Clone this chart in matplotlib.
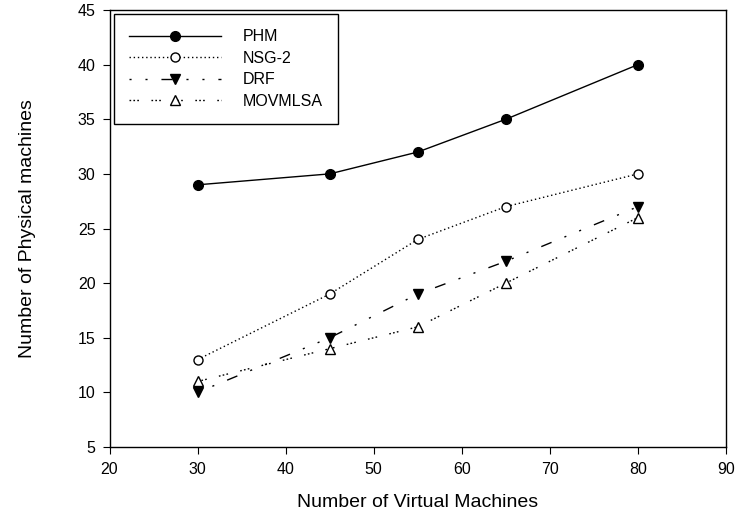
import matplotlib.pyplot as plt

plt.rcParams['font.family'] = ['Liberation Sans', 'DejaVu Sans']

vms = [30, 45, 55, 65, 80]
phm = [29, 30, 32, 35, 40]
nsg2 = [13, 19, 24, 27, 30]
drf = [10, 15, 19, 22, 27]
movmlsa = [11, 14, 16, 20, 26]

fig = plt.figure(figsize=(7.36, 5.21), dpi=100)
ax = fig.add_axes([0.1488, 0.142, 0.8376, 0.8388])

ax.plot(vms, phm, color='black', lw=1, marker='o', ms=7, mfc='black', label='PHM')
ax.plot(vms, nsg2, color='black', lw=1, ls=(0, (1, 2)), marker='o', ms=6.5,
        mfc='white', label='NSG-2')
ax.plot(vms, drf, color='black', lw=1, ls=(0, (1.5, 10, 1.5, 10, 8, 10)), marker='v', ms=7.5,
        mfc='black', label='DRF')
ax.plot(vms, movmlsa, color='black', lw=1, ls=(0, (1.2, 1.6, 1.2, 1.6, 1.2, 9)), marker='^',
        ms=7.5, mfc='white', label='MOVMLSA')

ax.set_xlim(20, 90)
ax.set_ylim(5, 45)
ax.set_xticks(range(20, 91, 10))
ax.set_yticks(range(5, 46, 5))
ax.tick_params(direction='out', length=5, labelsize=11.5, color='black')
ax.tick_params(axis='x', pad=6)
ax.tick_params(axis='y', pad=5)
ax.set_xlabel('Number of Virtual Machines', fontsize=14)
ax.set_ylabel('Number of Physical machines', fontsize=14)
ax.xaxis.set_label_coords(0.5, -0.107)
ax.yaxis.set_label_coords(-0.12, 0.5)
for s in ax.spines.values():
    s.set_linewidth(1)

leg = ax.legend(loc='upper left', fontsize=11.5, handlelength=5.75, handletextpad=1.4,
                borderaxespad=0.25, fancybox=False, edgecolor='black', framealpha=1,
                labelspacing=0.41, borderpad=0.95)
leg.get_frame().set_linewidth(1)

fig.savefig('out.png', dpi=100)
